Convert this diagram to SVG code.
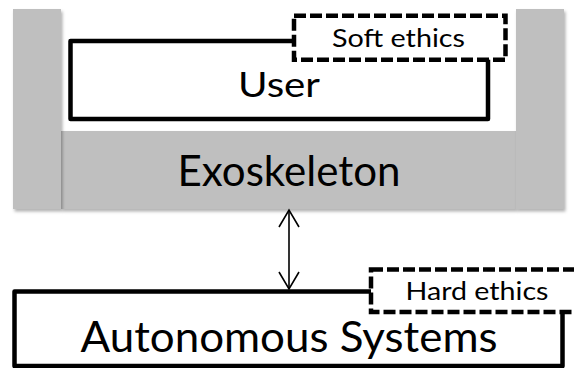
<svg xmlns="http://www.w3.org/2000/svg" width="574" height="368" viewBox="0 0 574 368">
<defs>
<style>
.gray{fill:#bfbfbf;filter:url(#sh);}
.box{fill:#fff;stroke:#000;stroke-width:4.5;stroke-linejoin:round;}
.dash{fill:#fff;stroke:#000;stroke-width:4.5;stroke-dasharray:12 4;}
.t{font-family:Lato,"Open Sans","Liberation Sans",sans-serif;fill:#000;text-anchor:middle;}
.conn{stroke:#000;stroke-width:1.6;fill:none;}
</style>
<filter id="sh" x="-10%" y="-10%" width="130%" height="130%">
<feDropShadow dx="1.5" dy="2.5" stdDeviation="1.5" flood-color="#000" flood-opacity="0.3"/>
</filter>
<marker id="ah" viewBox="0 0 24 24" refX="22" refY="12" markerWidth="24" markerHeight="24" markerUnits="userSpaceOnUse" orient="auto-start-reverse">
<path d="M5,2 L22,12 L5,22" fill="none" stroke="#000" stroke-width="1.6"/>
</marker>
</defs>
<g id="exoskeleton">
<rect class="gray" x="61" y="131" width="455" height="78"/>
<rect class="gray" x="13" y="9" width="48" height="200"/>
<rect class="gray" x="516" y="9" width="48" height="200"/>
<text class="t" x="289" y="186" font-size="42" textLength="223" lengthAdjust="spacingAndGlyphs">Exoskeleton</text>
</g>
<g id="user">
<rect class="box" x="70.5" y="41" width="417.5" height="78"/>
<text class="t" x="279" y="97" font-size="35" textLength="82" lengthAdjust="spacingAndGlyphs">User</text>
</g>
<g id="soft-ethics">
<rect class="dash" x="294" y="15.7" width="211.5" height="44"/>
<text class="t" x="398.5" y="47" font-size="25" textLength="133" lengthAdjust="spacingAndGlyphs">Soft ethics</text>
</g>
<g id="autonomous-systems">
<rect class="box" x="14.5" y="291.5" width="548" height="74.5"/>
<text class="t" x="289" y="352" font-size="42" textLength="417" lengthAdjust="spacingAndGlyphs">Autonomous Systems</text>
</g>
<g id="hard-ethics">
<rect class="dash" x="371" y="269.5" width="215" height="42.5"/>
<text class="t" x="477" y="300" font-size="25" textLength="143" lengthAdjust="spacingAndGlyphs">Hard ethics</text>
</g>
<g id="connectors">
<line class="conn" x1="289" y1="210" x2="289" y2="289" marker-start="url(#ah)" marker-end="url(#ah)"/>
</g>
</svg>
